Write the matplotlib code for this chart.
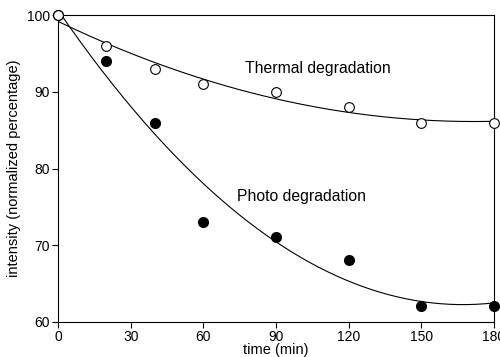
import numpy as np
import matplotlib
matplotlib.use("Agg")
import matplotlib.pyplot as plt

plt.rcParams['font.family'] = ['Liberation Sans', 'DejaVu Sans']

# time (min) and normalized intensity
time_min = [0, 20, 40, 60, 90, 120, 150, 180]
thermal = [100, 96, 93, 91, 90, 88, 86, 86]
photo = [100, 94, 86, 73, 71, 68, 62, 62]

fig = plt.figure(figsize=(5, 3.57), dpi=100)
ax = fig.add_axes([0.116, 0.099, 0.872, 0.858])

# fitted curves (quadratic)
xs = np.linspace(0, 180, 200)
ax.plot(xs, np.polyval(np.polyfit(time_min, thermal, 2), xs), color='black', lw=0.8)
ax.plot(xs, np.polyval(np.polyfit(time_min, photo, 2), xs), color='black', lw=0.8)

ax.plot(time_min, photo, 'o', ms=7, mfc='black', mec='black', clip_on=False, zorder=3)
ax.plot(time_min, thermal, 'o', ms=7, mfc='white', mec='black', mew=0.8, clip_on=False, zorder=4)

ax.text(77, 93, 'Thermal degradation', fontsize=11.3, va='center')
ax.text(74, 76.3, 'Photo degradation', fontsize=11.3, va='center')

ax.set_xlim(0, 180)
ax.set_ylim(60, 100)
ax.set_xticks([0, 30, 60, 90, 120, 150, 180])
ax.set_yticks([60, 70, 80, 90, 100])
ax.tick_params(direction='out', length=4, labelsize=10, pad=2)
ax.set_xlabel('time (min)', fontsize=10.5, labelpad=-1)
ax.set_ylabel('intensity (normalized percentage)', fontsize=10.5)
for s in ax.spines.values():
    s.set_linewidth(0.8)

fig.savefig('out.png', dpi=100)
